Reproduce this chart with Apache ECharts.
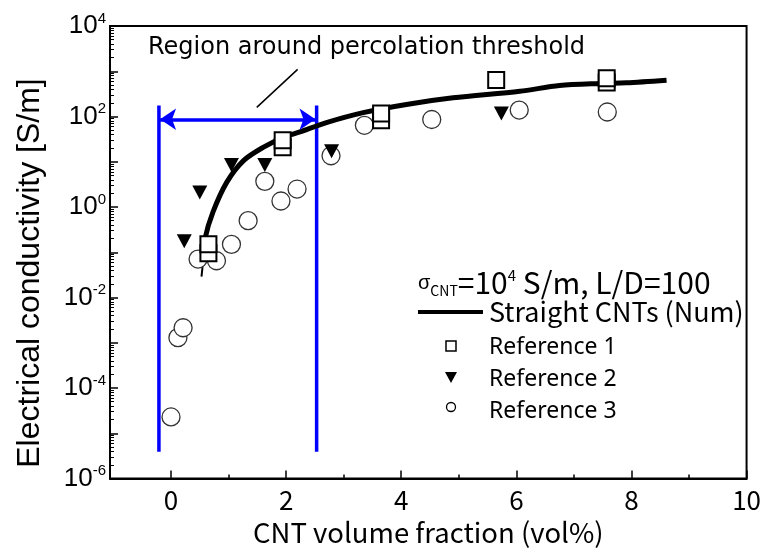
<!DOCTYPE html>
<html><head><meta charset="utf-8">
<script src="https://cdn.jsdelivr.net/npm/echarts@6/dist/echarts.min.js"></script>
<style>html,body{margin:0;padding:0;background:#fff}#c{width:764px;height:551px}</style>
</head><body><div id="c"></div>
<script>
// ---- axis ticks / labels ----
const xTickValues = [0, 2, 4, 6, 8, 10];
const xMinorTickValues = [1, 3, 5, 7, 9];
const yLabelValues = [1e-6, 1e-4, 1e-2, 1, 1e2, 1e4];
const yDecadeValues = [1e-6, 1e-5, 1e-4, 1e-3, 1e-2, 1e-1, 1, 1e1, 1e2, 1e3, 1e4];
const yMinorMultipliers = [2, 3, 4, 5, 6, 7, 8, 9];

// ---- series data ----
const numX = [0.57, 0.59, 0.73, 0.97, 1.26, 1.60, 1.95, 2.24, 2.70, 3.34, 4.09, 4.90, 6.06, 6.75, 7.45, 7.91, 8.61];
const numY = [0.09, 0.20, 0.78, 3.55, 10.6, 20.8, 34.5, 45.7, 73.5, 122, 185, 259, 362, 483, 535, 554, 631];
const stubX = [0.53, 0.57];
const stubY = [0.029, 0.09];

const ref1X = [0.65, 0.65, 1.94, 1.94, 3.65, 3.65, 5.65, 7.57, 7.57];
const ref1Y = [0.095, 0.15, 21, 30, 83, 117, 638, 562, 699];

const ref2X = [0.23, 0.50, 1.05, 1.63, 2.79, 5.74];
const ref2Y = [0.175, 2.1, 8.5, 8.5, 17, 117];

const ref3X = [0.00, 0.12, 0.21, 0.47, 0.79, 1.05, 1.34, 1.63, 1.91, 2.19, 2.78, 3.36, 4.53, 6.05, 7.58];
const ref3Y = [2.3e-5, 1.3e-3, 2.15e-3, 0.071, 0.065, 0.15, 0.5, 3.7, 1.36, 2.5, 13.6, 64, 86, 139, 126];

// ---- annotation (percolation region) ----
const regionX = [-0.21, 2.53];
const regionY = [3.9e-6, 176];
const arrowX = [-0.19, 2.51];
const arrowY = 87;
const pointerX = [1.49, 2.2];
const pointerY = [159, 1100];

const seriesNames = ['Straight CNTs (Num)', 'Reference 1', 'Reference 2', 'Reference 3'];
const headerText = ['σ', 'CNT', '=10', '4', ' S/m, L/D=100'];
const titleText = 'Region around percolation threshold';
const xName = 'CNT volume fraction (vol%)';
const yName = 'Electrical conductivity [S/m]';

const pts = (xs, ys) => xs.map((x, i) => [x, ys[i]]);
const gothic = '"Noto Sans CJK JP", sans-serif';
const arial = '"Liberation Sans", Arial, sans-serif';

const yMinorValues = [];
yDecadeValues.slice(0, -1).forEach(d => yMinorMultipliers.forEach(m => yMinorValues.push(d * m)));

const hidden = { opacity: 0 };

const chart = echarts.init(document.getElementById('c'));
const option = {
  animation: false,
  backgroundColor: '#fff',
  grid: { left: 110, right: 17, top: 26, bottom: 69, show: true, borderColor: '#000', borderWidth: 2 },
  title: {
    text: titleText, left: 143, top: 31,
    textStyle: { fontFamily: '"DejaVu Sans", sans-serif', fontSize: 24, fontWeight: 'normal', color: '#000' }
  },
  xAxis: [{
    type: 'value', min: -1.06, max: 10, position: 'bottom',
    axisLine: { onZero: false, lineStyle: { color: '#000', width: 2 } },
    axisTick: { inside: true, length: 8, customValues: xTickValues, lineStyle: { color: '#000', width: 1.5 } },
    axisLabel: { customValues: xTickValues, fontFamily: gothic, fontSize: 26, color: '#000', margin: 9 },
    splitLine: { show: false },
    name: xName, nameLocation: 'middle', nameGap: 38,
    nameTextStyle: { fontFamily: gothic, fontSize: 27.5, color: '#000' }
  }, {
    type: 'value', min: -1.06, max: 10, position: 'bottom', gridIndex: 0,
    axisLine: { show: false, onZero: false },
    axisTick: { inside: true, length: 4, customValues: xMinorTickValues, lineStyle: { color: '#000', width: 1.5 } },
    axisLabel: { show: false }, splitLine: { show: false }
  }],
  yAxis: [{
    type: 'log', min: 1e-6, max: 1e4, logBase: 10, position: 'left',
    axisLine: { onZero: false, lineStyle: { color: '#000', width: 2 } },
    axisTick: { inside: true, length: 8, customValues: yDecadeValues, lineStyle: { color: '#000', width: 1.5 } },
    axisLabel: {
      customValues: yLabelValues, margin: 4, color: '#000',
      formatter: v => '{b|10}{s|' + Math.round(Math.log10(v)) + '}',
      rich: {
        b: { fontFamily: arial, fontSize: 26, lineHeight: 30, color: '#000' },
        s: { fontFamily: arial, fontSize: 15, lineHeight: 15, verticalAlign: 'top', color: '#000' }
      }
    },
    splitLine: { show: false }
  }, {
    type: 'log', min: 1e-6, max: 1e4, logBase: 10, position: 'left', gridIndex: 0,
    axisLine: { show: false, onZero: false },
    axisTick: { inside: true, length: 4, customValues: yMinorValues, lineStyle: { color: '#000', width: 1 } },
    axisLabel: { show: false }, splitLine: { show: false }
  }],
  legend: {
    orient: 'vertical', left: 418, top: 296, padding: 0, itemGap: 9,
    itemWidth: 65, itemHeight: 11,
    textStyle: { fontFamily: '"Noto Sans", sans-serif', fontSize: 23, color: '#000' },
    data: [
      { name: seriesNames[0], textStyle: { fontFamily: gothic, fontSize: 27, lineHeight: 31 }, lineStyle: hidden, itemStyle: hidden },
      { name: seriesNames[1], itemStyle: hidden },
      { name: seriesNames[2], itemStyle: hidden },
      { name: seriesNames[3], itemStyle: hidden }
    ]
  },
  graphic: [{
    type: 'text', x: 30, y: 273, rotation: Math.PI / 2,
    style: { text: yName, font: '32px ' + arial, fill: '#000', align: 'center', verticalAlign: 'middle' }
  }, {
    type: 'text', left: 418, top: 268,
    style: {
      text: '{g|' + headerText[0] + '}{sub|' + headerText[1] + '}{m|' + headerText[2] + '}{sup|' + headerText[3] + '}{m|' + headerText[4] + '}',
      rich: {
        g: { fontFamily: arial, fontSize: 20, lineHeight: 30, fill: '#000' },
        sub: { fontFamily: gothic, fontSize: 14, lineHeight: 14, verticalAlign: 'bottom', fill: '#000' },
        m: { fontFamily: gothic, fontSize: 30, lineHeight: 30, fill: '#000' },
        sup: { fontFamily: gothic, fontSize: 15, lineHeight: 15, verticalAlign: 'top', fill: '#000' }
      }
    }
  },
  // legend key symbols
  { type: 'line', shape: { x1: 418, y1: 312, x2: 483, y2: 312 }, style: { stroke: '#000', lineWidth: 4 } },
  { type: 'rect', shape: { x: 446, y: 341, width: 10, height: 10 }, style: { fill: '#fff', stroke: '#000', lineWidth: 1.5 } },
  { type: 'polygon', shape: { points: [[445, 372], [457, 372], [451, 383]] }, style: { fill: '#000' } },
  { type: 'circle', shape: { cx: 451, cy: 407, r: 4.5 }, style: { fill: '#fff', stroke: '#000', lineWidth: 1.3 } }
  ],
  series: [
    {
      type: 'line', name: 'region-left', data: pts([regionX[0], regionX[0]], regionY), showSymbol: false, symbol: 'none',
      lineStyle: { color: '#0000FF', width: 3.5 }, silent: true, z: 1
    },
    {
      type: 'line', name: 'region-right', data: pts([regionX[1], regionX[1]], regionY), showSymbol: false, symbol: 'none',
      lineStyle: { color: '#0000FF', width: 3.5 }, silent: true, z: 1,
      markLine: {
        silent: true, symbol: ['arrow', 'arrow'], symbolSize: [16, 16],
        lineStyle: { color: '#0000FF', width: 3.5, type: 'solid' }, label: { show: false },
        data: [[{ coord: [arrowX[0], arrowY] }, { coord: [arrowX[1], arrowY] }]]
      }
    },
    {
      type: 'line', name: 'pointer', data: pts(pointerX, pointerY), symbol: 'none',
      lineStyle: { color: '#000', width: 1.5 }, silent: true, z: 1
    },
    {
      type: 'line', name: 'stub', data: pts(stubX, stubY), symbol: 'none',
      lineStyle: { color: '#000', width: 2 }, silent: true, z: 2
    },
    {
      type: 'line', name: seriesNames[0], data: pts(numX, numY), symbol: 'none', smooth: 0.3,
      lineStyle: { color: '#000', width: 5 }, itemStyle: { color: '#000' }, z: 2
    },
    {
      type: 'scatter', name: seriesNames[3], data: pts(ref3X, ref3Y), symbol: 'circle', symbolSize: 18,
      itemStyle: { color: '#fff', borderColor: '#333', borderWidth: 1.3, opacity: 1 }, z: 3
    },
    {
      type: 'scatter', name: seriesNames[2], data: pts(ref2X, ref2Y), symbol: 'triangle', symbolRotate: 180, symbolSize: [15, 14],
      itemStyle: { color: '#000', opacity: 1 }, z: 4
    },
    {
      type: 'scatter', name: seriesNames[1], data: pts(ref1X, ref1Y), symbol: 'rect', symbolSize: 16,
      itemStyle: { color: '#fff', borderColor: '#000', borderWidth: 2, opacity: 1 }, z: 5
    }
  ]
};
chart.setOption(option);
</script>
</body></html>
